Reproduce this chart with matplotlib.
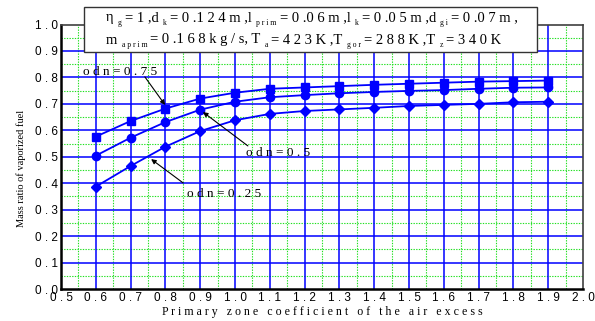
import numpy as np
import matplotlib
matplotlib.use("Agg")
import matplotlib.pyplot as plt
from matplotlib.patches import Rectangle

# Primary zone air-excess coefficient
alpha = [0.6, 0.7, 0.8, 0.9, 1.0, 1.1, 1.2, 1.3, 1.4, 1.5, 1.6, 1.7, 1.8, 1.9]

# Mass ratio of vaporized fuel for three odn values
odn_075 = [0.576, 0.635, 0.682, 0.720, 0.742, 0.757, 0.762, 0.767, 0.772, 0.776, 0.780, 0.784, 0.786, 0.788]
odn_050 = [0.504, 0.572, 0.631, 0.678, 0.708, 0.725, 0.733, 0.740, 0.745, 0.749, 0.752, 0.757, 0.761, 0.762]
odn_025 = [0.387, 0.465, 0.538, 0.597, 0.638, 0.662, 0.673, 0.679, 0.685, 0.692, 0.696, 0.700, 0.706, 0.708]

x_ticks = [0.5, 0.6, 0.7, 0.8, 0.9, 1.0, 1.1, 1.2, 1.3, 1.4, 1.5, 1.6, 1.7, 1.8, 1.9, 2.0]
y_ticks = [0.0, 0.1, 0.2, 0.3, 0.4, 0.5, 0.6, 0.7, 0.8, 0.9, 1.0]

BLUE = "#0000ff"
SERIF = "Liberation Serif"
SANS = "Liberation Sans"


def spaced(s):
    return " ".join(s)


fig = plt.figure(figsize=(5.95, 3.21), dpi=100)
ax = fig.add_axes([61 / 595, 32 / 321, 522 / 595, 264.5 / 321])
ax.set_xlim(0.5, 2.0)
ax.set_ylim(0.0, 1.0)

# grid: green dotted minor, blue solid major
for v in np.arange(0.55, 2.0, 0.1):
    ax.axvline(v, color="#22e022", lw=0.8, ls=(0, (1.2, 1.2)), zorder=0)
for v in np.arange(0.05, 1.0, 0.1):
    ax.axhline(v, color="#22e022", lw=0.8, ls=(0, (1.2, 1.2)), zorder=0)
for v in x_ticks[1:-1]:
    ax.axvline(v, color=BLUE, lw=1.1, zorder=1)
for v in y_ticks[1:-1]:
    ax.axhline(v, color=BLUE, lw=1.1, zorder=1)

ax.plot(alpha, odn_075, color=BLUE, lw=1.3, marker="s", ms=6, zorder=3)
ax.plot(alpha, odn_050, color=BLUE, lw=1.3, marker="o", ms=6, zorder=3)
ax.plot(alpha, odn_025, color=BLUE, lw=1.3, marker="D", ms=5.5, zorder=3)

ax.set_xticks(x_ticks)
ax.set_yticks(y_ticks)
ax.set_xticklabels([spaced(f"{v:.1f}") for v in x_ticks], fontfamily=SANS, fontsize=8.5)
ax.set_yticklabels([spaced(f"{v:.1f}") for v in y_ticks], fontfamily=SANS, fontsize=8.5)
ax.tick_params(length=0, pad=2)

for side in ("left", "bottom"):
    ax.spines[side].set_color("black")
    ax.spines[side].set_linewidth(1.8)
for side in ("top", "right"):
    ax.spines[side].set_color("#404040")
    ax.spines[side].set_linewidth(1.2)

ax.set_xlabel(spaced("Primary zone coefficient of the air excess"), fontfamily=SERIF, fontsize=8.6)
ax.xaxis.set_label_coords(0.5, -0.087)
ax.xaxis.label.set_va("center")
ax.set_ylabel("Mass ratio of vaporized fuel", fontfamily=SERIF, fontsize=7.5)
ax.yaxis.set_label_coords(-0.077, 0.454)
ax.yaxis.label.set_va("center")

# curve labels with arrows
arrow = dict(arrowstyle="-|>", color="black", lw=0.8, mutation_scale=7, shrinkA=0, shrinkB=0)
ax.annotate("", xy=(0.799, 0.696), xytext=(0.741, 0.802), arrowprops=arrow, zorder=5)
ax.text(0.563, 0.820, spaced("odn=0.75"), fontfamily=SERIF, fontsize=9.5, va="center", zorder=5)
ax.annotate("", xy=(0.908, 0.669), xytext=(1.037, 0.541), arrowprops=arrow, zorder=5)
ax.text(1.032, 0.515, spaced("odn=0.5"), fontfamily=SERIF, fontsize=9.5, va="center", zorder=5)
ax.annotate("", xy=(0.759, 0.491), xytext=(0.851, 0.401), arrowprops=arrow, zorder=5)
ax.text(0.862, 0.359, spaced("odn=0.25"), fontfamily=SERIF, fontsize=9.5, va="center", zorder=5)

# parameter box above the plot
box = Rectangle((84 / 595, 1 - 52 / 321), (537 - 84) / 595, 45 / 321, transform=fig.transFigure,
                facecolor="white", edgecolor="#333333", lw=1.0, zorder=10)
fig.add_artist(box)

line1 = [("η", 0), ("g", 1), ("= 1 ,d", 0), ("k", 1), ("= 0 .1 2 4 m ,l", 0), ("prim", 1),
         ("= 0 .0 6 m ,l", 0), ("k", 1), ("= 0 .0 5 m ,d", 0), ("gi", 1), ("= 0 .0 7 m ,", 0)]
line2 = [("m", 0), ("aprim", 1), ("= 0 .1 6 8 k g / s, T", 0), ("a", 1), ("= 4 2 3 K ,T", 0),
         ("gor", 1), ("= 2 8 8 K ,T", 0), ("z", 1), ("= 3 4 0 K", 0)]

fig.canvas.draw()
renderer = fig.canvas.get_renderer()


def draw_pieces(pieces, x0_px, y_px):
    x = x0_px
    for s, sub in pieces:
        if sub:
            txt = fig.text(x / 595 + 0.004, 1 - (y_px + 5) / 321, spaced(s), fontfamily=SERIF,
                           fontsize=5.5, va="center", zorder=11)
        else:
            txt = fig.text(x / 595, 1 - y_px / 321, s, fontfamily=SERIF, fontsize=10.5,
                           va="center", zorder=11)
        bb = txt.get_window_extent(renderer)
        x = bb.x1 + (3 if sub else 2)


draw_pieces(line1, 106, 18)
draw_pieces(line2, 106, 40)

fig.savefig("out.png", dpi=100)
